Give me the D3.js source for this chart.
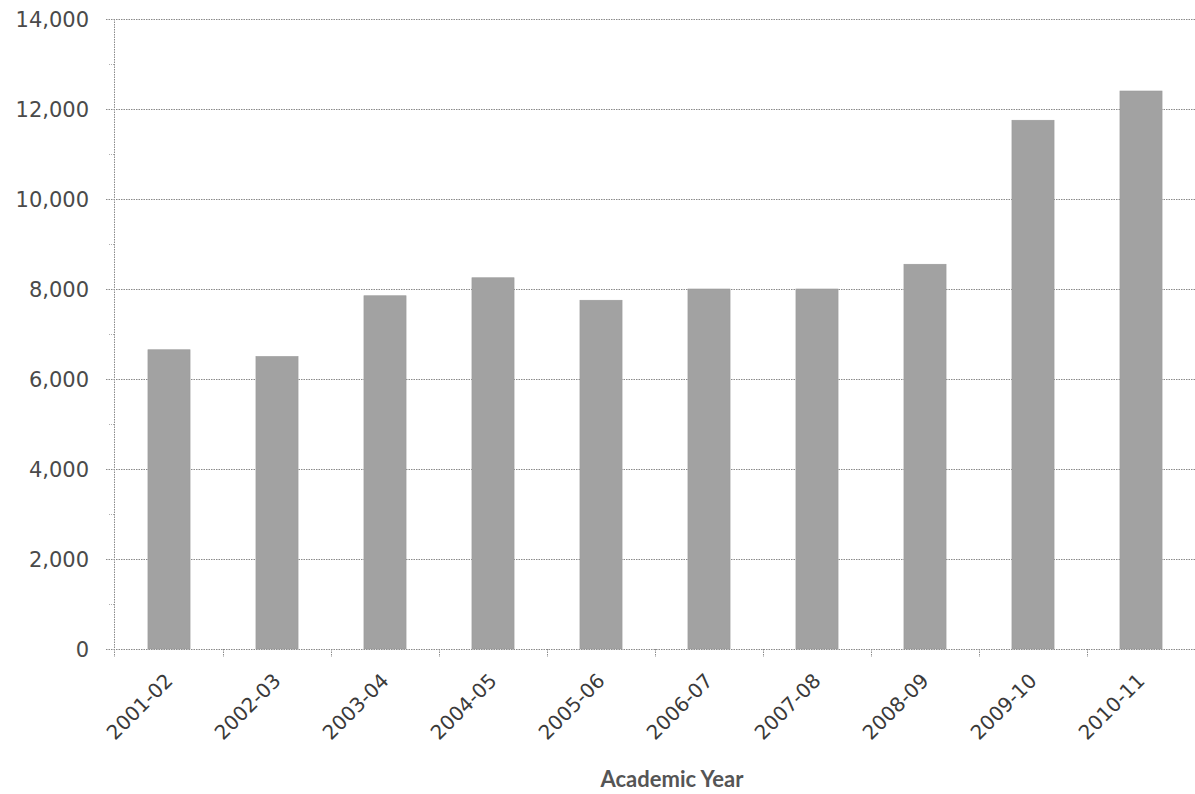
<!DOCTYPE html>
<html>
<head>
<meta charset="utf-8">
<script src="https://cdn.jsdelivr.net/npm/d3@7"></script>
<style>
  html, body { margin: 0; padding: 0; background: #fff; }
  svg { display: block; }
</style>
</head>
<body>
<script>
const categories = ["2001-02","2002-03","2003-04","2004-05","2005-06","2006-07","2007-08","2008-09","2009-10","2010-11"];
const values = [6650, 6500, 7850, 8250, 7750, 8000, 8000, 8550, 11750, 12400];
const yTicks = [0, 2000, 4000, 6000, 8000, 10000, 12000, 14000];
const yMinorTicks = [1000, 3000, 5000, 7000, 9000, 11000, 13000];
const xTitle = "Academic Year";

const W = 1195, H = 794;
const mLeft = 115, mRight = 1195, mTop = 19, mBottom = 649;

const svg = d3.select("body").append("svg").attr("width", W).attr("height", H);

const x = d3.scaleBand().domain(categories).range([mLeft, mRight]).paddingInner(0.61).paddingOuter(0.305);
const y = d3.scaleLinear().domain([0, 14000]).range([mBottom, mTop]);

const gridColor = "#8a8a8a";
const dash = "1.5,1";

// gridlines
svg.append("g").selectAll("line").data(yTicks).join("line")
  .attr("x1", mLeft - 9).attr("x2", mRight)
  .attr("y1", d => y(d) + 0.5).attr("y2", d => y(d) + 0.5)
  .attr("stroke", gridColor).attr("stroke-width", 1).attr("stroke-dasharray", dash);

// minor ticks
svg.append("g").selectAll("line").data(yMinorTicks).join("line")
  .attr("x1", mLeft - 6).attr("x2", mLeft)
  .attr("y1", d => y(d) + 0.5).attr("y2", d => y(d) + 0.5)
  .attr("stroke", "#b0b0b0").attr("stroke-width", 1).attr("stroke-dasharray", "1,1");

// y axis line
svg.append("line")
  .attr("x1", mLeft - 0.5).attr("x2", mLeft - 0.5)
  .attr("y1", mTop).attr("y2", mBottom + 8)
  .attr("stroke", gridColor).attr("stroke-width", 1).attr("stroke-dasharray", dash);

// x ticks at category boundaries
const bounds = categories.map(c => x(c) - x.step() * x.paddingInner() / 2);
svg.append("g").selectAll("line").data(bounds.slice(1)).join("line")
  .attr("x1", d => Math.round(d) + 0.5).attr("x2", d => Math.round(d) + 0.5)
  .attr("y1", mBottom).attr("y2", mBottom + 8)
  .attr("stroke", gridColor).attr("stroke-width", 1).attr("stroke-dasharray", "1.5,1");

// bars
svg.append("g").selectAll("rect").data(values).join("rect")
  .attr("x", (d, i) => x(categories[i]))
  .attr("y", d => y(d))
  .attr("width", x.bandwidth())
  .attr("height", d => y(0) - y(d))
  .attr("fill", "#a2a2a2")
  .attr("stroke", "#9a9a9a").attr("stroke-width", 0.6);

// y labels
const yAxis = d3.axisLeft(y).tickValues(yTicks).tickFormat(d3.format(",")).tickSize(0).tickPadding(0);
const gy = svg.append("g").attr("transform", `translate(${mLeft - 26},0)`).call(yAxis);
gy.select(".domain").remove();
gy.selectAll("text")
  .attr("font-family", "'DejaVu Sans', Verdana, sans-serif")
  .attr("font-size", 21).attr("fill", "#4a4a4a").attr("dy", "0.36em");

// x labels
const xAxis = d3.axisBottom(x).tickSize(0).tickPadding(0);
const gx = svg.append("g").attr("transform", `translate(0,${mBottom})`).call(xAxis);
gx.select(".domain").remove();
gx.selectAll("text")
  .attr("font-family", "'DejaVu Sans', Verdana, sans-serif")
  .attr("font-size", 20).attr("fill", "#3a3a3a")
  .attr("text-anchor", "end")
  .attr("dy", 0)
  .attr("y", 0)
  .attr("transform", "translate(5,33) rotate(-45)");

// x title
svg.append("text")
  .attr("x", 672).attr("y", 787)
  .attr("text-anchor", "middle")
  .attr("font-family", "Lato, 'Open Sans', sans-serif")
  .attr("font-weight", "bold")
  .attr("font-size", 22).attr("fill", "#555")
  .text(xTitle);
</script>
</body>
</html>
